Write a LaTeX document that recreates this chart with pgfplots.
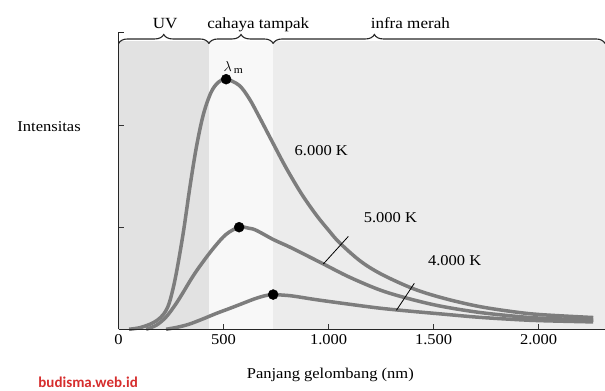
\documentclass[border=0pt]{standalone}
\usepackage{fontspec}
\setmainfont{Liberation Serif}[FakeStretch=1.1]
\newfontfamily\wmfont{Carlito}
\usepackage{pgfplots}
\pgfplotsset{compat=1.18}
\usetikzlibrary{decorations.pathreplacing}
\definecolor{curve}{RGB}{125,125,125}
\definecolor{uvbg}{RGB}{226,226,226}
\definecolor{visbg}{RGB}{248,248,248}
\definecolor{irbg}{RGB}{236,236,236}
\definecolor{wmred}{RGB}{214,45,45}
\newcommand{\lab}{\fontsize{15}{17}\selectfont}
\newcommand{\toplab}{\fontsize{15.5}{17}\selectfont}
\begin{document}
\begin{tikzpicture}
\begin{axis}[name=ax, scale only axis, width=486pt, height=288pt,
  xmin=0, xmax=2316, ymin=0, ymax=2.824,
  axis x line=bottom, axis y line=left,
  axis line style={-, draw=black!85, line width=1pt},
  axis on top, clip=false,
  xtick={0,500,1000,1500,2000}, xticklabels={0,500,1.000,1.500,2.000},
  ytick={1,2}, yticklabels={},
  tick align=inside, major tick length=5pt,
  tick style={black!80, line width=0.9pt},
  xticklabel style={font=\lab, yshift=-2pt},
]
% background regions
\fill[uvbg] (axis cs:0,0) rectangle (axis cs:430,2.824);
\fill[visbg] (axis cs:430,0) rectangle (axis cs:736,2.824);
\fill[irbg] (axis cs:736,0) rectangle (axis cs:2316,2.824);

% braces on top
\draw[decorate, decoration={brace, amplitude=9pt}, line width=1.1pt, black!85]
  (axis cs:0,2.80) -- (axis cs:430,2.80);
\draw[decorate, decoration={brace, amplitude=9pt}, line width=1.1pt, black!85]
  (axis cs:430,2.80) -- (axis cs:736,2.80);
\draw[decorate, decoration={brace, amplitude=9pt, aspect=0.305}, line width=1.1pt, black!85]
  (axis cs:736,2.80) -- (axis cs:2316,2.80);
\draw[black!85, line width=1pt] (axis cs:0,2.824) -- ++(0,9pt) -- ++(5pt,0);

\node[font=\toplab, anchor=base] at (axis cs:222,2.95) {UV};
\node[font=\toplab, anchor=base] at (axis cs:665,2.95) {cahaya tampak};
\node[font=\toplab, anchor=base] at (axis cs:1389,2.95) {infra merah};

% 6000 K
\addplot[curve, line width=3.5pt, smooth, tension=0.55] coordinates {
(50,0.00)(100,0.015)(150,0.05)(185,0.09)(215,0.15)(240,0.25)(265,0.45)(288,0.70)
(312,1.00)(340,1.40)(370,1.78)(403,2.10)(440,2.32)(475,2.42)(512,2.45)(574,2.39)
(622,2.26)(670,2.08)(736,1.82)(798,1.58)(870,1.33)(941,1.12)(1000,0.97)(1051,0.85)
(1150,0.67)(1251,0.54)(1400,0.40)(1537,0.31)(1700,0.23)(1850,0.18)(2000,0.145)
(2260,0.115)};
% 5000 K
\addplot[curve, line width=3.5pt, smooth, tension=0.55] coordinates {
(131,0.00)(180,0.04)(226,0.12)(270,0.24)(307,0.36)(345,0.49)(384,0.61)(450,0.79)
(512,0.93)(574,1.00)(620,0.99)(655,0.97)(736,0.88)(800,0.82)(850,0.77)(975,0.64)
(1100,0.51)(1251,0.38)(1400,0.29)(1537,0.225)(1700,0.17)(1850,0.135)(2000,0.11)
(2260,0.09)};
% 4000 K
\addplot[curve, line width=3.5pt, smooth, tension=0.55] coordinates {
(226,0.00)(280,0.02)(336,0.05)(400,0.10)(465,0.155)(530,0.205)(593,0.255)(650,0.30)
(700,0.33)(736,0.34)(780,0.335)(832,0.325)(941,0.29)(1100,0.245)(1251,0.205)
(1400,0.175)(1537,0.15)(1700,0.12)(1850,0.10)(2000,0.085)(2260,0.072)};
% peaks
\addplot[only marks, mark=*, mark size=5pt, black] coordinates {
(512,2.45)(574,1.00)(736,0.34)};

% label leader lines
\draw[black, line width=0.8pt] (axis cs:975,0.64) -- (axis cs:1094,0.91);
\draw[black, line width=0.8pt] (axis cs:1323,0.186) -- (axis cs:1408,0.45);

\node[font=\lab] at (axis cs:965,1.755) {6.000 K};
\node[font=\lab] at (axis cs:1294,1.09) {5.000 K};
\node[font=\lab] at (axis cs:1600,0.67) {4.000 K};
\node[anchor=south, inner sep=1pt, font=\lab] at (axis cs:545,2.49) {$\lambda_{\,\mathrm{m}}$};

\node[font=\lab] at (axis cs:-331,1.99) {Intensitas};
\node[font=\lab] at (axis cs:1008,-0.45) {Panjang gelombang (nm)};
\node[inner sep=0pt, font=\wmfont\bfseries\fontsize{15}{17}\selectfont, text=wmred] at (axis cs:-145,-0.515) {budisma.web.id};
\end{axis}
\pgfresetboundingbox
\path[use as bounding box] ([xshift=-118.5pt, yshift=-61pt]ax.south west) rectangle ([yshift=41pt]ax.north east);
\end{tikzpicture}
\end{document}
